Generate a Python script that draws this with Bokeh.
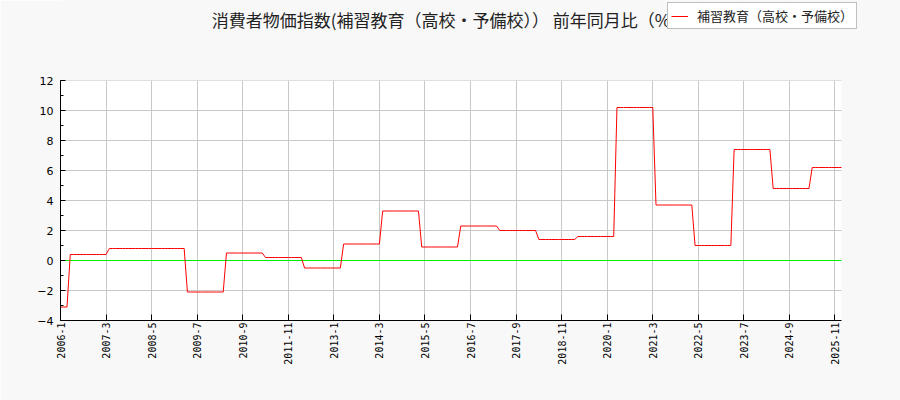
import math
from bokeh.plotting import figure
from bokeh.models import (Range1d, FixedTicker, SingleIntervalTicker, Span, BoxAnnotation,
                          Legend, LegendItem, Label, ColumnDataSource)
from bokeh.embed import file_html
from bokeh.resources import INLINE

title_text = "消費者物価指数(補習教育（高校・予備校）） 前年同月比（%）"
series_name = "補習教育（高校・予備校）"
start_year = 2006

# monthly year-on-year change (%), 2006-1 .. 2026-1
values = [
    -3.1, -3.1, -3.1, 0.4, 0.4, 0.4, 0.4, 0.4, 0.4, 0.4, 0.4, 0.4,      # 2006
    0.4, 0.4, 0.4, 0.8, 0.8, 0.8, 0.8, 0.8, 0.8, 0.8, 0.8, 0.8,         # 2007
    0.8, 0.8, 0.8, 0.8, 0.8, 0.8, 0.8, 0.8, 0.8, 0.8, 0.8, 0.8,         # 2008
    0.8, 0.8, 0.8, -2.1, -2.1, -2.1, -2.1, -2.1, -2.1, -2.1, -2.1, -2.1,  # 2009
    -2.1, -2.1, -2.1, 0.5, 0.5, 0.5, 0.5, 0.5, 0.5, 0.5, 0.5, 0.5,      # 2010
    0.5, 0.5, 0.5, 0.2, 0.2, 0.2, 0.2, 0.2, 0.2, 0.2, 0.2, 0.2,         # 2011
    0.2, 0.2, 0.2, -0.5, -0.5, -0.5, -0.5, -0.5, -0.5, -0.5, -0.5, -0.5,  # 2012
    -0.5, -0.5, -0.5, 1.1, 1.1, 1.1, 1.1, 1.1, 1.1, 1.1, 1.1, 1.1,      # 2013
    1.1, 1.1, 1.1, 3.3, 3.3, 3.3, 3.3, 3.3, 3.3, 3.3, 3.3, 3.3,         # 2014
    3.3, 3.3, 3.3, 0.9, 0.9, 0.9, 0.9, 0.9, 0.9, 0.9, 0.9, 0.9,         # 2015
    0.9, 0.9, 0.9, 2.3, 2.3, 2.3, 2.3, 2.3, 2.3, 2.3, 2.3, 2.3,         # 2016
    2.3, 2.3, 2.3, 2.0, 2.0, 2.0, 2.0, 2.0, 2.0, 2.0, 2.0, 2.0,         # 2017
    2.0, 2.0, 2.0, 1.4, 1.4, 1.4, 1.4, 1.4, 1.4, 1.4, 1.4, 1.4,         # 2018
    1.4, 1.4, 1.4, 1.6, 1.6, 1.6, 1.6, 1.6, 1.6, 1.6, 1.6, 1.6,         # 2019
    1.6, 1.6, 1.6, 10.2, 10.2, 10.2, 10.2, 10.2, 10.2, 10.2, 10.2, 10.2,  # 2020
    10.2, 10.2, 10.2, 3.7, 3.7, 3.7, 3.7, 3.7, 3.7, 3.7, 3.7, 3.7,      # 2021
    3.7, 3.7, 3.7, 1.0, 1.0, 1.0, 1.0, 1.0, 1.0, 1.0, 1.0, 1.0,         # 2022
    1.0, 1.0, 1.0, 7.4, 7.4, 7.4, 7.4, 7.4, 7.4, 7.4, 7.4, 7.4,         # 2023
    7.4, 7.4, 7.4, 4.8, 4.8, 4.8, 4.8, 4.8, 4.8, 4.8, 4.8, 4.8,         # 2024
    4.8, 4.8, 4.8, 6.2, 6.2, 6.2, 6.2, 6.2, 6.2, 6.2, 6.2, 6.2,         # 2025
    6.2,                                                                # 2026
]

tick_labels = ["2006-1", "2007-3", "2008-5", "2009-7", "2010-9", "2011-11",
               "2013-1", "2014-3", "2015-5", "2016-7", "2017-9", "2018-11",
               "2020-1", "2021-3", "2022-5", "2023-7", "2024-9", "2025-11"]

y_min, y_max = -4, 12


def month_index(label):
    y, m = label.split("-")
    return (int(y) - start_year) * 12 + int(m) - 1


idx = list(range(len(values)))
month_labels = [f"{start_year + i // 12}-{i % 12 + 1}" for i in idx]
tick_pos = [month_index(t) for t in tick_labels]
x_last = len(values) - 1

# layout geometry (pixels): plot area 60..841 x 80..320 on a 900x400 canvas;
# the frame is extended to the top/right edges so the title and legend can sit in it
W, H = 900, 400
left_px, right_px, top_px, bottom_px = 60, 841, 80, 320
px_per_x = (right_px - left_px) / x_last
px_per_y = (bottom_px - top_px) / (y_max - y_min)
x_end = x_last + (W - right_px) / px_per_x
y_end = y_max + top_px / px_per_y

source = ColumnDataSource(data=dict(x=idx, y=values, month=month_labels))

p = figure(width=W, height=H, output_backend="svg", toolbar_location=None,
           x_range=Range1d(0, x_end), y_range=Range1d(y_min, y_end),
           min_border_left=left_px, min_border_right=0,
           min_border_top=0, min_border_bottom=H - bottom_px,
           background_fill_color="#f8f8f8", border_fill_color="#f8f8f8",
           outline_line_color=None)

# white plot area
p.add_layout(BoxAnnotation(left=0, right=x_last, bottom=y_min, top=y_max,
                           fill_color="white", fill_alpha=1, line_color=None, level="image"))

ticker_x = FixedTicker(ticks=tick_pos)
p.xaxis.ticker = ticker_x
p.xgrid.ticker = ticker_x
p.xaxis.bounds = (0, x_last)
p.xaxis.major_label_overrides = {pos: lab for pos, lab in zip(tick_pos, tick_labels)}
p.xaxis.major_label_orientation = math.pi / 2
p.xaxis.major_label_text_font = "DejaVu Sans Mono"
p.xaxis.major_label_text_font_size = "10px"
p.xaxis.major_label_text_color = "black"
p.xaxis.major_label_standoff = 2
p.xaxis.major_tick_in = 6
p.xaxis.major_tick_out = 0
p.xaxis.minor_tick_line_color = None
p.xaxis.axis_line_color = "black"
p.xaxis.major_tick_line_color = "black"

ticker_y = SingleIntervalTicker(interval=2, num_minor_ticks=2)
p.yaxis.ticker = ticker_y
p.ygrid.ticker = ticker_y
p.yaxis.bounds = (y_min, y_max)
p.yaxis.major_label_text_font = "DejaVu Sans"
p.yaxis.major_label_text_font_size = "11px"
p.yaxis.major_label_text_color = "black"
p.yaxis.major_label_standoff = 7
p.yaxis.major_tick_in = 5
p.yaxis.major_tick_out = 0
p.yaxis.minor_tick_in = 3
p.yaxis.minor_tick_out = 0
p.yaxis.axis_line_color = "black"
p.yaxis.major_tick_line_color = "black"
p.yaxis.minor_tick_line_color = "black"

for g in (p.xgrid, p.ygrid):
    g.grid_line_color = "#c8c8c8"
    g.grid_line_width = 1

zero = Span(location=0, dimension="width", line_color="#00ee00", line_width=1, level="underlay")
p.add_layout(zero)

# mask grid/zero line outside the plot area
p.add_layout(BoxAnnotation(bottom=y_max, fill_color="#f8f8f8", fill_alpha=1,
                           line_color=None, level="underlay"))
p.add_layout(BoxAnnotation(left=x_last, fill_color="#f8f8f8", fill_alpha=1,
                           line_color=None, level="underlay"))

r = p.line(x="x", y="y", source=source, line_color="#ff0000", line_width=1)

title = Label(x=389, y=301, x_units="screen", y_units="screen", text=title_text,
              text_align="center", text_baseline="middle",
              text_font="Noto Sans CJK JP", text_font_size="17px", text_color="#222222")
p.add_layout(title)

legend = Legend(items=[LegendItem(label=series_name, renderers=[r])],
                location=(607, 291), orientation="vertical",
                border_line_color="#808080", border_line_width=1,
                background_fill_color="white", background_fill_alpha=1,
                label_text_font="Noto Sans CJK JP", label_text_font_size="13px",
                label_text_color="#222222",
                glyph_width=17, glyph_height=14, padding=3, label_standoff=9,
                margin=0, spacing=0)
p.add_layout(legend, "center")

open("out.html", "w").write(file_html(p, INLINE))
